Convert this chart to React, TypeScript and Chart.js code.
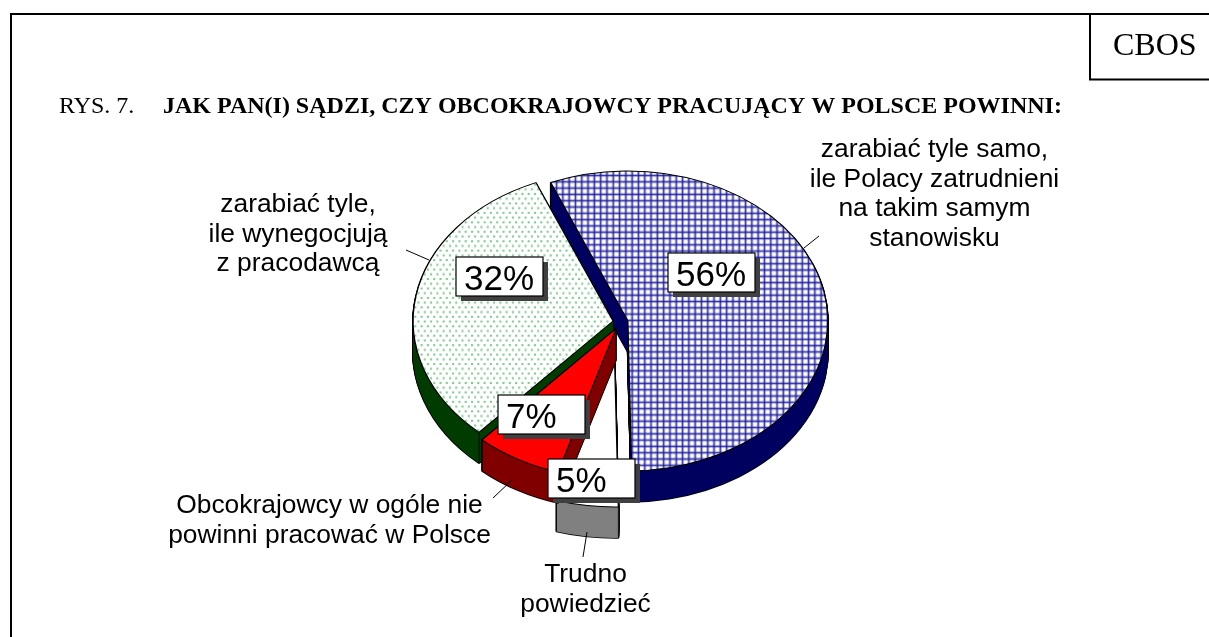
import React, { useEffect, useRef } from "react";
import { Chart, registerables, ArcElement } from "chart.js";

Chart.register(...registerables);

const categories = [
  "zarabiać tyle samo, ile Polacy zatrudnieni na takim samym stanowisku",
  "Trudno powiedzieć",
  "Obcokrajowcy w ogóle nie powinni pracować w Polsce",
  "zarabiać tyle, ile wynegocjują z pracodawcą",
];
const values = [56, 5, 7, 32];
const valueLabels = ["56%", "5%", "7%", "32%"];
const categoryLines = [
  ["zarabiać tyle samo,", "ile Polacy zatrudnieni", "na takim samym", "stanowisku"],
  ["Trudno", "powiedzieć"],
  ["Obcokrajowcy w ogóle nie", "powinni pracować w Polsce"],
  ["zarabiać tyle,", "ile wynegocjują", "z pracodawcą"],
];
const titlePrefix = "RYS. 7.";
const titleText = "JAK PAN(I) SĄDZI, CZY OBCOKRAJOWCY PRACUJĄCY W POLSCE POWINNI:";
const sourceText = "CBOS";

// layout / style (not data)
const W = 1209;
const H = 637;
const TILT = 0.75;
const DEPTH = 31;
const explode = [7, 47, 10, 8];
const paintOrder = [0, 3, 1, 2];
const wallColors = ["#000060", "#808080", "#800000", "#003c00"];
const valueBoxes = [
  { x: 668, y: 253 },
  { x: 548, y: 459 },
  { x: 498, y: 395 },
  { x: 456, y: 257 },
];
const textAnchors = [
  { x: 934.5, y: 157 },
  { x: 585.5, y: 582 },
  { x: 329.5, y: 513 },
  { x: 298, y: 212 },
];
const leaders = [
  [804, 248, 819, 236],
  [587, 532, 583, 557],
  [512, 480, 493, 498],
  [429, 260, 406, 250],
];
// which slice corners show a vertical wall edge: [start, end]
const cornerEdges = [
  [true, true],
  [true, true],
  [true, true],
  [true, false],
];

function makeBluePattern(ctx: CanvasRenderingContext2D) {
  const t = document.createElement("canvas");
  t.width = 6;
  t.height = 6;
  const c = t.getContext("2d")!;
  c.fillStyle = "#fff";
  c.fillRect(0, 0, 6, 6);
  c.fillStyle = "rgba(70,70,175,0.4)";
  c.fillRect(0, 0, 3, 6);
  c.fillRect(0, 0, 6, 3);
  c.fillStyle = "rgba(20,20,150,0.75)";
  c.fillRect(1, 0, 1, 6);
  c.fillRect(0, 1, 6, 1);
  const p = ctx.createPattern(t, "repeat")!;
  p.setTransform(new DOMMatrix().scale(1.05, 1.05 / TILT));
  return p;
}

function makeGreenPattern(ctx: CanvasRenderingContext2D) {
  const t = document.createElement("canvas");
  t.width = 6;
  t.height = 9;
  const c = t.getContext("2d")!;
  c.fillStyle = "#fff";
  c.fillRect(0, 0, 6, 9);
  c.fillStyle = "#86cc95";
  c.fillRect(0, 0, 2, 2);
  c.fillRect(3, 4.5, 2, 2);
  const p = ctx.createPattern(t, "repeat")!;
  p.setTransform(new DOMMatrix().scale(1.05, 1.05 / TILT));
  return p;
}

const pie3d = {
  id: "pie3d",
  beforeDatasetDraw(chart: any) {
    const ctx: CanvasRenderingContext2D = chart.ctx;
    const meta = chart.getDatasetMeta(0);
    const first = meta.data[0];
    const cx = first.x;
    const cy = first.y;
    const bg = chart.data.datasets[0].backgroundColor;
    const draw = (arc: any, o: any) => {
      const clone = Object.create(arc, {
        options: { value: { ...arc.options, offset: 0, spacing: 0, borderAlign: "center", ...o } },
        pixelMargin: { value: 0, writable: true },
        fullCircles: { value: 0, writable: true },
      });
      ArcElement.prototype.draw.call(clone, ctx);
    };
    ctx.save();
    ctx.translate(cx, cy);
    ctx.scale(1, TILT);
    ctx.translate(-cx, -cy);
    for (const i of paintOrder) {
      const arc = meta.data[i];
      const mid = (arc.startAngle + arc.endAngle) / 2;
      const ox = Math.cos(mid) * explode[i];
      const oy = Math.sin(mid) * explode[i];
      ctx.save();
      ctx.translate(ox, oy);
      for (let d = DEPTH; d >= 1; d--) {
        ctx.save();
        ctx.translate(0, d / TILT);
        draw(arc, { backgroundColor: "#000", borderColor: "#000", borderWidth: 2 });
        ctx.restore();
      }
      for (let d = DEPTH; d >= 1; d--) {
        ctx.save();
        ctx.translate(0, d / TILT);
        draw(arc, { backgroundColor: wallColors[i], borderColor: wallColors[i], borderWidth: 0 });
        ctx.restore();
      }
      // vertical wall edges at the slice corners
      ctx.strokeStyle = "#000";
      ctx.lineWidth = 1;
      ctx.beginPath();
      [arc.startAngle, arc.endAngle].forEach((a: number, k: number) => {
        if (!cornerEdges[i][k]) return;
        const px = arc.x + Math.cos(a) * arc.outerRadius;
        const py = arc.y + Math.sin(a) * arc.outerRadius;
        ctx.moveTo(px, py);
        ctx.lineTo(px, py + DEPTH / TILT);
      });
      ctx.stroke();
      draw(arc, { backgroundColor: bg[i], borderColor: "#000", borderWidth: 1.3, borderJoinStyle: "miter" });
      ctx.restore();
    }
    ctx.restore();
    return false;
  },
  afterDraw(chart: any) {
    const ctx: CanvasRenderingContext2D = chart.ctx;
    ctx.save();
    // frame
    ctx.strokeStyle = "#000";
    ctx.lineWidth = 2;
    ctx.beginPath();
    ctx.moveTo(11, H);
    ctx.lineTo(11, 14);
    ctx.lineTo(W, 14);
    ctx.moveTo(1090, 14);
    ctx.lineTo(1090, 79.5);
    ctx.moveTo(1089, 79.5);
    ctx.lineTo(W, 79.5);
    ctx.stroke();

    ctx.fillStyle = "#000";
    ctx.textBaseline = "alphabetic";
    ctx.textAlign = "left";
    ctx.font = '32px "Liberation Serif"';
    ctx.fillText(sourceText, 1113, 55);
    ctx.font = '24px "Liberation Serif"';
    ctx.fillText(titlePrefix, 59, 113);
    ctx.font = 'bold 24px "Liberation Serif"';
    ctx.fillText(titleText, 163, 113);

    // leader lines
    ctx.lineWidth = 1;
    ctx.beginPath();
    for (const [a, b, c, d] of leaders) {
      ctx.moveTo(a, b);
      ctx.lineTo(c, d);
    }
    ctx.stroke();

    // category labels
    ctx.textAlign = "center";
    ctx.font = '26.4px "Liberation Sans"';
    categoryLines.forEach((lines, i) => {
      lines.forEach((line, j) => {
        ctx.fillText(line, textAnchors[i].x, textAnchors[i].y + j * 29.7);
      });
    });

    // value boxes
    const bw = 87;
    const bh = 39;
    valueLabels.forEach((label, i) => {
      const { x, y } = valueBoxes[i];
      ctx.fillStyle = "#404040";
      ctx.fillRect(x + 5, y + 5, bw, bh);
      ctx.fillStyle = "#fff";
      ctx.fillRect(x, y, bw, bh);
      ctx.strokeStyle = "#000";
      ctx.lineWidth = 1.2;
      ctx.strokeRect(x, y, bw, bh);
      ctx.fillStyle = "#000";
      ctx.textAlign = "left";
      ctx.font = '35px "Liberation Sans"';
      ctx.fillText(label, x + 8, y + 33);
    });
    ctx.restore();
  },
};

export default function App() {
  const ref = useRef<HTMLCanvasElement>(null);
  useEffect(() => {
    const canvas = ref.current!;
    const ctx = canvas.getContext("2d")!;
    const chart = new Chart(canvas, {
      type: "pie",
      data: {
        labels: categories,
        datasets: [
          {
            data: values,
            backgroundColor: [makeBluePattern(ctx), "#ffffff", "#ff0000", makeGreenPattern(ctx)],
            borderColor: "#000",
            borderWidth: 1,
            clip: false,
          } as any,
        ],
      },
      options: {
        responsive: false,
        animation: false,
        events: [],
        rotation: -22.7,
        radius: 200,
        layout: { padding: { left: 33, top: 7, right: 0, bottom: 0 } },
        plugins: { legend: { display: false }, tooltip: { enabled: false }, title: { display: false } },
      } as any,
      plugins: [pie3d as any],
    });
    return () => chart.destroy();
  }, []);
  return (
    <canvas
      ref={ref}
      width={W}
      height={H}
      style={{ position: "fixed", left: 0, top: 0, display: "block", background: "#fff" }}
    />
  );
}
